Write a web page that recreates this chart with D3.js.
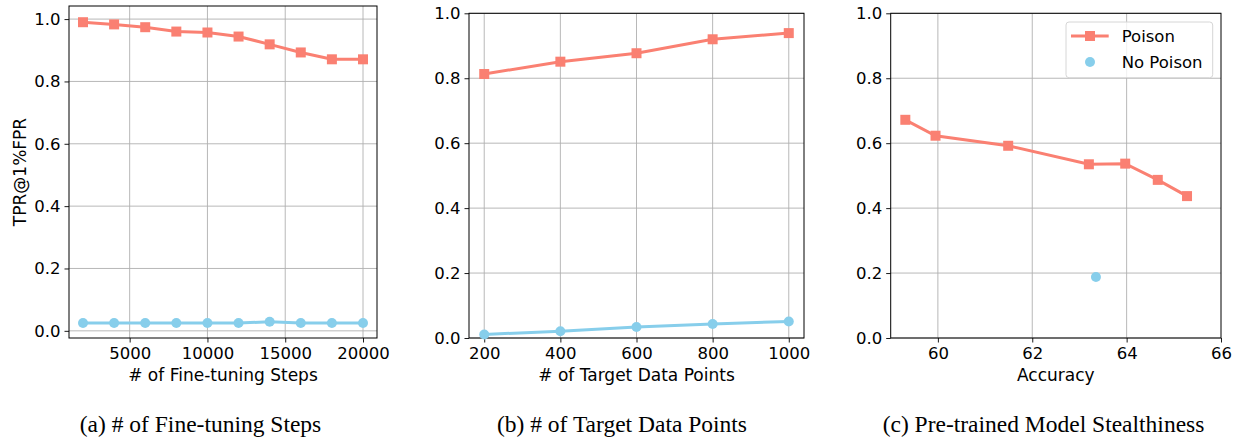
<!DOCTYPE html>
<html><head><meta charset="utf-8">
<script src="https://cdn.jsdelivr.net/npm/d3@7"></script>
<style>
body{margin:0;background:#fff;}
svg{display:block;}
text{font-family:"DejaVu Sans",sans-serif;fill:#000;}
.cap{font-family:"Liberation Serif","Times New Roman",serif;}
</style></head>
<body>
<svg id="c" width="1233" height="438"></svg>
<script>
// Panel (a): fine-tuning steps
const stepsX = [2000,4000,6000,8000,10000,12000,14000,16000,18000,20000];
const stepsPoison = [0.990,0.983,0.974,0.960,0.957,0.944,0.919,0.893,0.871,0.871];
const stepsNoPoison = [0.025,0.025,0.025,0.025,0.025,0.025,0.029,0.025,0.025,0.025];
const stepsTicks = [5000,10000,15000,20000];
// Panel (b): target data points
const targetX = [200,400,600,800,1000];
const targetPoison = [0.813,0.851,0.877,0.920,0.939];
const targetNoPoison = [0.011,0.021,0.034,0.043,0.051];
const targetTicks = [200,400,600,800,1000];
// Panel (c): stealthiness
const accPoisonX = [59.31,59.95,61.49,63.20,63.97,64.66,65.28];
const accPoison = [0.672,0.623,0.592,0.535,0.537,0.487,0.437];
const accNoPoisonX = [63.35];
const accNoPoison = [0.188];
const accTicks = [60,62,64,66];
const yTicks = [0,0.2,0.4,0.6,0.8,1.0];
const seriesNames = ["Poison","No Poison"];
const captions = ["(a) # of Fine-tuning Steps","(b) # of Target Data Points","(c) Pre-trained Model Stealthiness"];
const xLabels = ["# of Fine-tuning Steps","# of Target Data Points","Accuracy"];

const POISON = "#fa8072", NOPOISON = "#87ceeb";
const TICKFS = "16.5px", LABFS = "17px";
const svg = d3.select("#c");

const panels = [
  {L:69,R:377,T:6,B:338,xd:[1100,20900],yd:[-0.023,1.042],xt:stepsTicks,
   p:{x:stepsX,y:stepsPoison},n:{x:stepsX,y:stepsNoPoison,line:true},capX:200.5,xlab:xLabels[0],cap:captions[0],ylab:true},
  {L:469,R:804,T:13.3,B:338,xd:[160,1040],yd:[0,1],xt:targetTicks,
   p:{x:targetX,y:targetPoison},n:{x:targetX,y:targetNoPoison,line:true},capX:622,xlab:xLabels[1],cap:captions[1]},
  {L:890.7,R:1221,T:13.3,B:338,xd:[59,66],yd:[0,1],xt:accTicks,
   p:{x:accPoisonX,y:accPoison},n:{x:accNoPoisonX,y:accNoPoison,line:false},capX:1043.5,xlab:xLabels[2],cap:captions[2],legend:true}
];

panels.forEach(P=>{
  const x = d3.scaleLinear().domain(P.xd).range([P.L,P.R]);
  const y = d3.scaleLinear().domain(P.yd).range([P.B,P.T]);
  const g = svg.append("g");
  // grid
  g.append("g").selectAll("line").data(P.xt.filter(t=>x(t)>P.L+0.5&&x(t)<P.R-0.5)).join("line")
    .attr("x1",d=>x(d)).attr("x2",d=>x(d)).attr("y1",P.T).attr("y2",P.B)
    .attr("stroke","#b0b0b0").attr("stroke-width",0.9);
  g.append("g").selectAll("line").data(yTicks).join("line")
    .attr("y1",d=>y(d)).attr("y2",d=>y(d)).attr("x1",P.L).attr("x2",P.R)
    .attr("stroke","#b0b0b0").attr("stroke-width",0.9);
  // axes
  const xa = g.append("g").attr("transform",`translate(0,${P.B})`)
    .call(d3.axisBottom(x).tickValues(P.xt).tickSize(4.5).tickPadding(4).tickFormat(d3.format("d")));
  const ya = g.append("g").attr("transform",`translate(${P.L},0)`)
    .call(d3.axisLeft(y).tickValues(yTicks).tickSize(4.5).tickPadding(4).tickFormat(d3.format(".1f")));
  [xa,ya].forEach(a=>{
    a.select(".domain").remove();
    a.selectAll("text").style("font-family","DejaVu Sans").style("font-size",TICKFS).attr("fill","#000");
    a.selectAll("line").attr("stroke","#000").attr("stroke-width",0.9);
  });
  xa.selectAll("text").attr("dy","0.75em");
  // frame
  g.append("rect").attr("x",P.L).attr("y",P.T).attr("width",P.R-P.L).attr("height",P.B-P.T)
    .attr("fill","none").attr("stroke","#000").attr("stroke-width",1);
  // series
  const line = d3.line().x(d=>x(d[0])).y(d=>y(d[1]));
  const pd = P.p.x.map((v,i)=>[v,P.p.y[i]]);
  const nd = P.n.x.map((v,i)=>[v,P.n.y[i]]);
  if(P.n.line) g.append("path").attr("d",line(nd)).attr("fill","none").attr("stroke",NOPOISON).attr("stroke-width",3);
  g.append("g").selectAll("circle").data(nd).join("circle")
    .attr("cx",d=>x(d[0])).attr("cy",d=>y(d[1])).attr("r",5).attr("fill",NOPOISON);
  g.append("path").attr("d",line(pd)).attr("fill","none").attr("stroke",POISON).attr("stroke-width",3);
  g.append("g").selectAll("rect").data(pd).join("rect")
    .attr("x",d=>x(d[0])-5).attr("y",d=>y(d[1])-5).attr("width",10).attr("height",10).attr("fill",POISON);
  // labels
  svg.append("text").attr("x",(P.L+P.R)/2).attr("y",380.5).attr("text-anchor","middle")
    .style("font-size",LABFS).text(P.xlab);
  svg.append("text").attr("class","cap").attr("x",P.capX).attr("y",432).attr("text-anchor","middle")
    .style("font-size","23.5px").text(P.cap);
  if(P.ylab){
    svg.append("text").attr("transform",`translate(26,${(P.T+P.B)/2}) rotate(-90)`).attr("text-anchor","middle")
      .style("font-size",LABFS).text("TPR@1%FPR");
  }
  if(P.legend){
    const lg = svg.append("g");
    lg.append("rect").attr("x",1066).attr("y",22).attr("width",146.7).attr("height",55.7).attr("rx",3)
      .attr("fill","#fff").attr("fill-opacity",0.8).attr("stroke","#d6d6d6");
    lg.append("line").attr("x1",1071).attr("x2",1108.7).attr("y1",36).attr("y2",36).attr("stroke",POISON).attr("stroke-width",3);
    lg.append("rect").attr("x",1090-5).attr("y",31).attr("width",10).attr("height",10).attr("fill",POISON);
    lg.append("circle").attr("cx",1090).attr("cy",62).attr("r",5).attr("fill",NOPOISON);
    lg.selectAll("text.l").data(seriesNames).join("text").attr("class","l")
      .attr("x",1121.7).attr("y",(d,i)=>36+i*26).attr("dy","0.35em").style("font-size",TICKFS).text(d=>d);
  }
});
</script>
</body></html>
